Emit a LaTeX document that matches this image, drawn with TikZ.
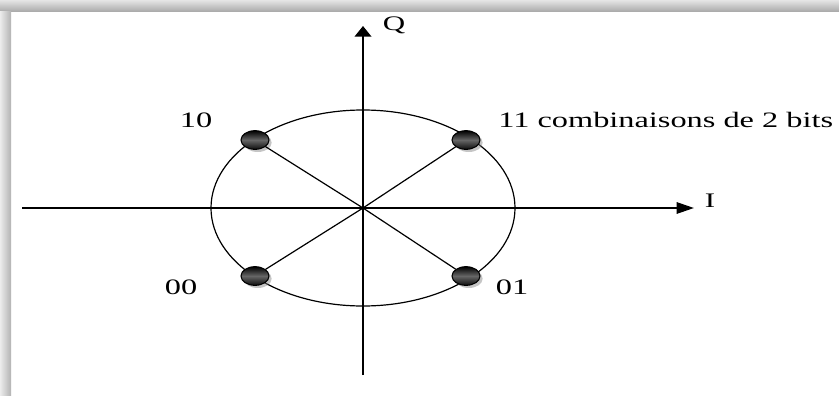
\documentclass[tikz,border=0pt]{standalone}
\usepackage{fontspec}
\setmainfont{Liberation Serif}
\usetikzlibrary{arrows.meta,shapes.geometric,shadows}

\tikzset{
  axis/.style={line width=1.5pt},
  harr/.style={-{Triangle[length=13pt,width=8.5pt]}},
  varr/.style={-{Triangle[length=8pt,width=12.5pt]}},
  symb/.style={ellipse,draw=black,line width=.8pt,minimum width=21pt,minimum height=14pt,
    inner sep=0pt,top color=black,bottom color=black!95,middle color=black!60,
    drop shadow={opacity=.45,shadow xshift=2pt,shadow yshift=-2pt}},
  bits/.style={font=\fontsize{16.5}{18}\selectfont,xscale=1.47,inner sep=0pt},
  axlbl/.style={font=\fontsize{15.5}{17}\selectfont,xscale=1.5,inner sep=0pt}
}

\begin{document}
\begin{tikzpicture}[x=.75pt,y=-.75pt]
  \useasboundingbox (0,0) rectangle (839,396);
  % frame with shadow
  \fill[white] (0,0) rectangle (839,396);
  \shade[top color=gray!20,bottom color=gray!65] (0,0) rectangle (839,11);
  \shade[left color=gray!15,right color=gray!60] (0,11) rectangle (11,396);
  % axes
  \coordinate (O) at (363,208);
  \coordinate (qtop) at (363,26);
  \coordinate (qbot) at (363,375);
  \coordinate (ileft) at (22,208);
  \coordinate (iright) at (694,208);
  \draw[axis,varr] (qbot)--(qtop);
  \draw[axis,harr] (ileft)--(iright);
  \node[axlbl] (Q) at (394,25) {Q};
  \node[axlbl] (I) at (710,201) {I};
  % circle of the constellation
  \draw[line width=.9pt] (O) ellipse [x radius=152,y radius=98];
  % symbols
  \node[symb] (p10) at (255,140) {};
  \node[symb] (p11) at (466,140) {};
  \node[symb] (p00) at (255,276) {};
  \node[symb] (p01) at (466,276) {};
  \foreach \p in {p10,p11,p00,p01}
    \draw[line width=.9pt] (O)--(\p);
  % labels
  \node[bits] (l10) at (196,120) {10};
  \node[bits,anchor=west] (l11) at (498,120) {11 combinaisons de 2 bits};
  \node[bits] (l00) at (181,287) {00};
  \node[bits] (l01) at (512,287) {01};
\end{tikzpicture}
\end{document}
